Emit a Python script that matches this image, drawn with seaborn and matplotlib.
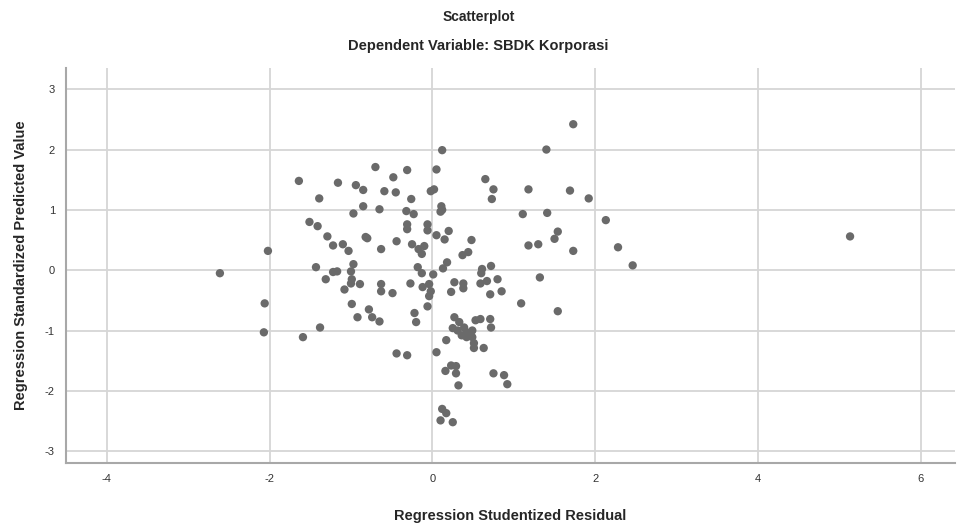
import matplotlib
matplotlib.use("Agg")
import matplotlib.pyplot as plt
import seaborn as sns
import pandas as pd

# values
studentized_residual = [
    -1.64, -1.39, -1.51, -1.41, -1.29, -2.02, -2.61, -1.43, -1.31, -2.06,
    -2.07, -1.38, -1.59, 0.12, -0.70, -0.31, 0.05, -0.48, -1.16, -0.94,
    -0.85, -0.59, -0.45, -0.02, 0.02, -0.26, -0.85, -0.65, -0.97, -0.32,
    -0.23, 0.11, 0.12, 0.10, -0.31, -0.31, -0.06, -0.06, -0.82, -0.80,
    0.05, 0.20, 0.15, -0.44, 1.73, 1.40, 0.65, 0.75, 0.73, 1.18,
    1.69, 1.92, 1.11, 1.41, 2.13, 1.54, 1.50, 0.48, -1.22, -1.10,
    -1.03, -0.63, -0.25, -0.17, -0.10, -0.13, 0.37, 0.44, -0.97, -1.00,
    -1.22, -1.17, -0.99, -1.00, -0.89, -1.08, -0.63, -0.63, -0.49, -0.27,
    -0.18, -0.13, 0.01, 0.13, 0.18, -0.12, -0.04, -0.02, -0.04, 0.27,
    0.38, 0.38, 0.23, -0.06, -0.99, -0.78, -0.92, -0.74, -0.65, -0.22,
    -0.20, 0.17, -0.44, -0.31, 0.05, 0.27, 0.33, 0.25, 0.31, 0.39,
    0.42, 0.36, 0.42, 1.18, 1.30, 1.73, 2.28, 2.46, 0.72, 0.61,
    0.60, 0.67, 0.80, 0.59, 0.71, 0.85, 1.32, 1.09, 1.54, 0.53,
    0.59, 0.71, 0.72, 0.49, 0.49, 0.51, 0.51, 0.63, 0.16, 0.23,
    0.29, 0.29, 0.32, 0.75, 0.88, 0.92, 0.12, 0.17, 0.10, 0.25,
    5.13,
]
standardized_predicted = [
    1.48, 1.19, 0.80, 0.73, 0.56, 0.32, -0.05, 0.05, -0.15, -0.55,
    -1.03, -0.95, -1.11, 1.99, 1.71, 1.66, 1.67, 1.54, 1.45, 1.41,
    1.33, 1.31, 1.29, 1.31, 1.34, 1.18, 1.06, 1.01, 0.94, 0.98,
    0.93, 1.06, 1.00, 0.97, 0.76, 0.68, 0.76, 0.66, 0.55, 0.53,
    0.58, 0.65, 0.51, 0.48, 2.42, 2.00, 1.51, 1.34, 1.18, 1.34,
    1.32, 1.19, 0.93, 0.95, 0.83, 0.64, 0.52, 0.50, 0.41, 0.43,
    0.32, 0.35, 0.43, 0.35, 0.40, 0.27, 0.25, 0.30, 0.10, -0.02,
    -0.03, -0.02, -0.15, -0.22, -0.23, -0.32, -0.23, -0.35, -0.38, -0.22,
    0.05, -0.05, -0.07, 0.03, 0.13, -0.28, -0.23, -0.35, -0.43, -0.20,
    -0.22, -0.30, -0.36, -0.60, -0.56, -0.65, -0.78, -0.78, -0.85, -0.71,
    -0.86, -1.16, -1.38, -1.41, -1.36, -0.78, -0.86, -0.96, -1.00, -0.95,
    -1.03, -1.08, -1.11, 0.41, 0.43, 0.32, 0.38, 0.08, 0.07, 0.02,
    -0.05, -0.18, -0.15, -0.22, -0.40, -0.35, -0.12, -0.55, -0.68, -0.83,
    -0.81, -0.81, -0.95, -1.00, -1.11, -1.21, -1.29, -1.29, -1.67, -1.58,
    -1.59, -1.71, -1.91, -1.71, -1.74, -1.89, -2.30, -2.37, -2.49, -2.52,
    0.56,
]
x_ticks = [-4, -2, 0, 2, 4, 6]
y_ticks = [-3, -2, -1, 0, 1, 2, 3]

df = pd.DataFrame({"resid": studentized_residual, "pred": standardized_predicted})

sns.set_style("whitegrid")
plt.rcParams['font.family'] = ['Liberation Sans', 'DejaVu Sans']

fig = plt.figure(figsize=(9.57, 5.24), dpi=100)
ax = fig.add_axes([0.069, 0.116, 0.929, 0.754])

sns.scatterplot(data=df, x="resid", y="pred", ax=ax, color="#6a6a6a",
                s=36, edgecolor="none", linewidth=0)

ax.set_xlim(-4.5, 6.42)
ax.set_ylim(-3.2, 3.35)
ax.set_xticks(x_ticks)
ax.set_yticks(y_ticks)
ax.set_xticklabels([str(t) for t in x_ticks])
ax.set_yticklabels([str(t) for t in y_ticks])
ax.tick_params(axis="both", length=0, labelsize=8, colors="#333333", pad=8)

ax.grid(True, color="#d6d6d6", linewidth=1.3)
for side in ["top", "right"]:
    ax.spines[side].set_visible(False)
for side in ["left", "bottom"]:
    ax.spines[side].set_color("#a8a8a8")
    ax.spines[side].set_linewidth(1.5)

ax.set_xlabel("Regression Studentized Residual", fontsize=10.5, fontweight="bold",
              labelpad=18)
ax.set_ylabel("Regression Standardized Predicted Value", fontsize=10.5,
              fontweight="bold", labelpad=12)

fig.text(0.5, 0.968, "Scatterplot", ha="center", va="center", fontsize=10,
         fontweight="bold")
fig.text(0.5, 0.912, "Dependent Variable: SBDK Korporasi", ha="center",
         va="center", fontsize=10.5, fontweight="bold")

fig.savefig("out.png", dpi=100)
